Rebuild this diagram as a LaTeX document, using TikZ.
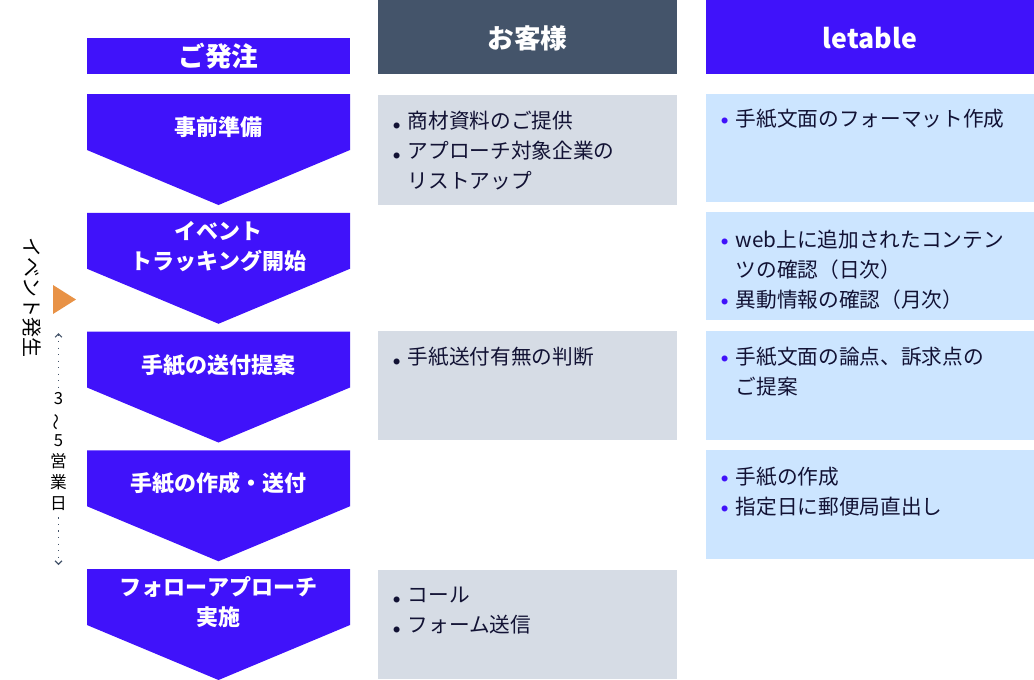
\documentclass[tikz,border=0pt]{standalone}
\usepackage{fontspec}
\setmainfont{Noto Sans CJK JP}
\usepackage{graphicx}
\usepackage{xcolor}
\usetikzlibrary{arrows.meta}

\definecolor{flowblue}{RGB}{64,18,250}
\definecolor{headslate}{RGB}{68,84,106}
\definecolor{cellgray}{RGB}{214,220,229}
\definecolor{cellblue}{RGB}{204,229,255}
\definecolor{markorange}{RGB}{232,146,70}
\definecolor{bodyink}{RGB}{18,18,52}

\newcommand{\itemdot}[2]{\makebox[11pt][l]{\raisebox{#2}{\textcolor{#1}{\fontsize{5pt}{5pt}\selectfont ●}}}}
\newcommand{\itemgap}{\makebox[11pt][l]{}}

\tikzset{
  steptext/.style={text=white, font=\bfseries\fontsize{16.5pt}{22.5pt}\selectfont, align=center, inner sep=0pt},
  headtext/.style={text=white, font=\bfseries\fontsize{20pt}{24pt}\selectfont, inner sep=0pt},
  celltext/.style={anchor=north west, text=bodyink, font=\fontsize{15.5pt}{22.5pt}\selectfont, align=left, inner sep=0pt},
}

\begin{document}
\begin{tikzpicture}[x=0.75pt,y=0.75pt,yscale=-1,xscale=1]
\useasboundingbox (0,0) rectangle (1034,679);

%Shape: Rectangle headers
\fill [flowblue] (87,38) rectangle (350,74);
\fill [headslate] (378,0) rectangle (677,74);
\fill [flowblue] (706,0) rectangle (1034,74);
% Text Node
\node [headtext] (order) at (218.5,56) {ご発注};
% Text Node
\node [headtext] (client) at (527.5,38) {お客様};
% Text Node
\node [headtext] (vendor) at (870,38) {letable};

%Shape: Pentagon steps
\foreach \k/\lbl in {0/{事前準備},1/{イベント\\トラッキング開始},2/{手紙の送付提案},3/{手紙の作成・送付},4/{フォローアプローチ\\実施}} {
  \pgfmathsetmacro{\ytop}{94+118.75*\k}
  \fill [flowblue] (87,\ytop) -- (350,\ytop) -- (350,\ytop+56) -- (218.5,\ytop+111) -- (87,\ytop+56) -- cycle;
  \node [steptext] (phase\k) at (218.5,\ytop+33.5) {\lbl};
}

%Shape: Rectangle cells
\fill [cellgray] (378,95) rectangle (677,205);
\fill [cellgray] (378,331) rectangle (677,440);
\fill [cellgray] (378,570) rectangle (677,679);
\fill [cellblue] (706,94) rectangle (1034,202);
\fill [cellblue] (706,212) rectangle (1034,320);
\fill [cellblue] (706,331) rectangle (1034,440);
\fill [cellblue] (706,450) rectangle (1034,559);

% Text Node
\node [celltext] (clientA) at (393,111) {\itemdot{bodyink}{0pt}商材資料のご提供\\\itemdot{bodyink}{0pt}アプローチ対象企業の\\\itemgap リストアップ};
% Text Node
\node [celltext] (clientC) at (393,347) {\itemdot{bodyink}{0pt}手紙送付有無の判断};
% Text Node
\node [celltext] (clientE) at (393,587) {\itemdot{bodyink}{0pt}コール\\\itemdot{bodyink}{0pt}フォーム送信};
% Text Node
\node [celltext] (vendorA) at (721,109) {\itemdot{flowblue}{2.5pt}手紙文面のフォーマット作成};
% Text Node
\node [celltext] (vendorB) at (721,230) {\itemdot{flowblue}{2.5pt}web上に追加されたコンテン\\\itemgap ツの確認（日次）\\\itemdot{flowblue}{2.5pt}異動情報の確認（月次）};
% Text Node
\node [celltext] (vendorC) at (721,347) {\itemdot{flowblue}{2.5pt}手紙文面の論点、訴求点の\\\itemgap ご提案};
% Text Node
\node [celltext] (vendorD) at (721,467) {\itemdot{flowblue}{2.5pt}手紙の作成\\\itemdot{flowblue}{2.5pt}指定日に郵便局直出し};

%Shape: Triangle marker
\fill [markorange] (53,285) -- (76,299.5) -- (53,314) -- cycle;
% Text Node
\node [rotate=-90, font=\fontsize{15pt}{18pt}\selectfont, inner sep=0pt] (eventlbl) at (32,297) {イベント発生};

%Straight Lines span
\coordinate (spanTop) at (58.5,333);
\coordinate (spanBot) at (58.5,565);
\draw [headslate, line width=0.9pt, dash pattern=on 0.9pt off 4pt, {Straight Barb[length=2.5pt,width=5pt]}-{Straight Barb[length=2.5pt,width=5pt]}] (spanTop) -- (spanBot);
% Text Node
\node [fill=white, inner xsep=1pt, inner ysep=2pt, align=center, font=\fontsize{12.5pt}{15.75pt}\selectfont] (spanlbl) at (58.5,452) {3\\\rotatebox[origin=c]{90}{～}\\5\\営\\業\\日};

\end{tikzpicture}
\end{document}
